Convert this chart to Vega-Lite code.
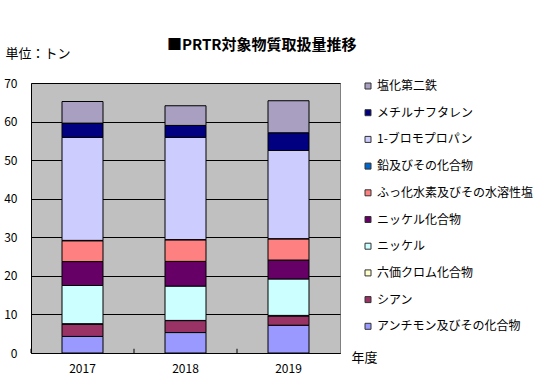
{
  "$schema": "https://vega.github.io/schema/vega-lite/v6.json",
  "width": 309,
  "height": 270,
  "autosize": {"type": "none"},
  "padding": {"left": 31, "top": 83, "right": 208, "bottom": 38},
  "background": "white",
  "config": {
    "font": "Noto Sans CJK JP",
    "view": {"fill": "#C0C0C0", "stroke": "#808080", "strokeWidth": 1}
  },
  "title": {
    "text": "■PRTR対象物質取扱量推移",
    "anchor": "start",
    "frame": "group",
    "dx": 136,
    "offset": -6,
    "fontSize": 15,
    "fontWeight": "bold",
    "color": "black",
    "font": "Noto Sans CJK JP"
  },
  "datasets": {
    "amounts": [
      {"year": "2017", "substance": "アンチモン及びその化合物", "idx": 1, "value": 4.3},
      {"year": "2017", "substance": "シアン", "idx": 2, "value": 3.2},
      {"year": "2017", "substance": "六価クロム化合物", "idx": 3, "value": 0.1},
      {"year": "2017", "substance": "ニッケル", "idx": 4, "value": 9.9},
      {"year": "2017", "substance": "ニッケル化合物", "idx": 5, "value": 6.2},
      {"year": "2017", "substance": "ふっ化水素及びその水溶性塩", "idx": 6, "value": 5.4},
      {"year": "2017", "substance": "鉛及びその化合物", "idx": 7, "value": 0.1},
      {"year": "2017", "substance": "1-ブロモプロパン", "idx": 8, "value": 26.7},
      {"year": "2017", "substance": "メチルナフタレン", "idx": 9, "value": 3.7},
      {"year": "2017", "substance": "塩化第二鉄", "idx": 10, "value": 5.6},
      {"year": "2018", "substance": "アンチモン及びその化合物", "idx": 1, "value": 5.3},
      {"year": "2018", "substance": "シアン", "idx": 2, "value": 3.1},
      {"year": "2018", "substance": "六価クロム化合物", "idx": 3, "value": 0.05},
      {"year": "2018", "substance": "ニッケル", "idx": 4, "value": 8.9},
      {"year": "2018", "substance": "ニッケル化合物", "idx": 5, "value": 6.4},
      {"year": "2018", "substance": "ふっ化水素及びその水溶性塩", "idx": 6, "value": 5.6},
      {"year": "2018", "substance": "鉛及びその化合物", "idx": 7, "value": 0.05},
      {"year": "2018", "substance": "1-ブロモプロパン", "idx": 8, "value": 26.5},
      {"year": "2018", "substance": "メチルナフタレン", "idx": 9, "value": 3.1},
      {"year": "2018", "substance": "塩化第二鉄", "idx": 10, "value": 5.1},
      {"year": "2019", "substance": "アンチモン及びその化合物", "idx": 1, "value": 7.2},
      {"year": "2019", "substance": "シアン", "idx": 2, "value": 2.4},
      {"year": "2019", "substance": "六価クロム化合物", "idx": 3, "value": 0.15},
      {"year": "2019", "substance": "ニッケル", "idx": 4, "value": 9.45},
      {"year": "2019", "substance": "ニッケル化合物", "idx": 5, "value": 4.9},
      {"year": "2019", "substance": "ふっ化水素及びその水溶性塩", "idx": 6, "value": 5.5},
      {"year": "2019", "substance": "鉛及びその化合物", "idx": 7, "value": 0.05},
      {"year": "2019", "substance": "1-ブロモプロパン", "idx": 8, "value": 22.85},
      {"year": "2019", "substance": "メチルナフタレン", "idx": 9, "value": 4.6},
      {"year": "2019", "substance": "塩化第二鉄", "idx": 10, "value": 8.3}
    ],
    "years": [
      {"year": "2017"},
      {"year": "2018"},
      {"year": "2019"}
    ]
  },
  "layer": [
    {
      "data": {"name": "amounts"},
      "mark": {"type": "bar", "size": 41, "stroke": "black", "strokeWidth": 1},
      "encoding": {
        "x": {
          "field": "year",
          "type": "nominal",
          "scale": {"paddingInner": 0, "paddingOuter": 0},
          "axis": {
            "title": "年度",
            "titleX": 320,
            "titleY": 4,
            "titleAlign": "left",
            "titleBaseline": "middle",
            "titleFontSize": 13,
            "titleFontWeight": "normal",
            "titleColor": "black",
            "labelAngle": 0,
            "labelFontSize": 12,
            "labelColor": "black",
            "labelPadding": 10,
            "labelBaseline": "top",
            "ticks": false,
            "domainColor": "black",
            "domainWidth": 1
          }
        },
        "y": {
          "field": "value",
          "type": "quantitative",
          "stack": "zero",
          "scale": {"domain": [0, 70], "nice": false},
          "axis": {
            "title": "単位：トン",
            "titleAngle": 0,
            "titleX": -26,
            "titleY": -30,
            "titleAlign": "left",
            "titleBaseline": "middle",
            "titleFontSize": 13,
            "titleFontWeight": "normal",
            "titleColor": "black",
            "values": [0, 10, 20, 30, 40, 50, 60, 70],
            "labelOverlap": false,
            "labelFontSize": 12,
            "labelColor": "black",
            "labelPadding": 14,
            "ticks": false,
            "domainColor": "black",
            "grid": true,
            "gridColor": "black",
            "gridOpacity": 1,
            "gridWidth": 1
          }
        },
        "color": {
          "field": "substance",
          "type": "nominal",
          "scale": {
            "domain": ["塩化第二鉄", "メチルナフタレン", "1-ブロモプロパン", "鉛及びその化合物", "ふっ化水素及びその水溶性塩", "ニッケル化合物", "ニッケル", "六価クロム化合物", "シアン", "アンチモン及びその化合物"],
            "range": ["#A99FC0", "#000080", "#CCCCFF", "#0066CC", "#FF8080", "#660066", "#CCFFFF", "#FFFFCC", "#993366", "#9999FF"]
          },
          "legend": {
            "title": null,
            "orient": "none",
            "legendX": 331,
            "legendY": -3,
            "padding": 0,
            "symbolType": "square",
            "symbolSize": 36,
            "symbolStrokeColor": "#333333",
            "symbolStrokeWidth": 1,
            "labelFontSize": 12,
            "labelColor": "black",
            "labelOffset": 3,
            "labelLimit": 300,
            "rowPadding": 14.7
          }
        },
        "order": {"field": "idx", "type": "quantitative", "sort": "ascending"}
      }
    },
    {
      "data": {"name": "years"},
      "mark": {"type": "rule", "color": "black", "strokeWidth": 1},
      "encoding": {
        "x": {
          "field": "year",
          "type": "nominal",
          "bandPosition": 0,
          "axis": {
            "title": "年度",
            "titleX": 320,
            "titleY": 4,
            "titleAlign": "left",
            "titleBaseline": "middle",
            "titleFontSize": 13,
            "titleFontWeight": "normal",
            "titleColor": "black",
            "labelAngle": 0,
            "labelFontSize": 12,
            "labelColor": "black",
            "labelPadding": 10,
            "labelBaseline": "top",
            "ticks": false,
            "domainColor": "black",
            "domainWidth": 1
          }
        },
        "y": {
          "datum": 0,
          "axis": {
            "title": "単位：トン",
            "titleAngle": 0,
            "titleX": -26,
            "titleY": -30,
            "titleAlign": "left",
            "titleBaseline": "middle",
            "titleFontSize": 13,
            "titleFontWeight": "normal",
            "titleColor": "black",
            "values": [0, 10, 20, 30, 40, 50, 60, 70],
            "labelOverlap": false,
            "labelFontSize": 12,
            "labelColor": "black",
            "labelPadding": 14,
            "ticks": false,
            "domainColor": "black",
            "grid": true,
            "gridColor": "black",
            "gridOpacity": 1,
            "gridWidth": 1
          }
        },
        "y2": {"datum": 1.1}
      }
    }
  ]
}
